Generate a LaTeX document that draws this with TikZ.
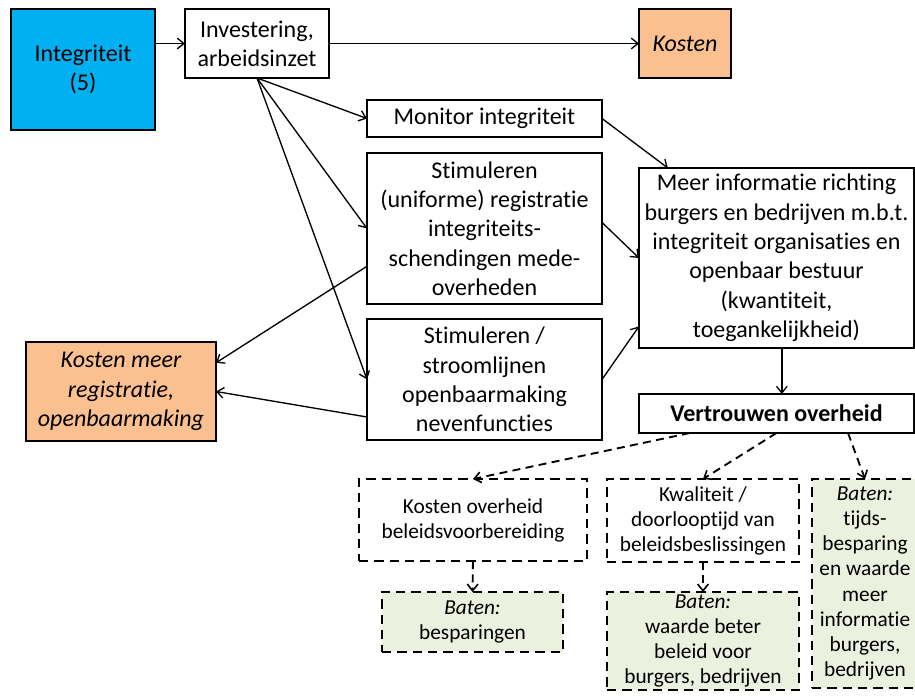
\documentclass[tikz,border=0pt]{standalone}
\usepackage{fontspec}
\setmainfont[Ligatures=NoCommon]{Carlito}
\usetikzlibrary{arrows.meta,calc}
\definecolor{cyanfill}{HTML}{00B0F0}
\definecolor{orangefill}{HTML}{FAC090}
\definecolor{greenfill}{HTML}{EBF1DE}
\tikzset{
  box/.style={draw, line width=1.5pt, inner sep=0pt, outer sep=0pt, align=center,
    font=\fontsize{18}{22}\selectfont},
  dbox/.style={draw, line width=2.2pt, dash pattern=on 7pt off 4.5pt, inner sep=0pt, outer sep=0pt,
    align=center, font=\fontsize{16}{18.8}\selectfont},
  arr/.style={line width=1pt, -{Straight Barb[length=5pt,width=8pt,line width=1pt]}},
  darr/.style={line width=1.4pt, dash pattern=on 6pt off 4pt, -{Straight Barb[length=5pt,width=8pt,line width=1.2pt]}},
}
\newcommand{\bx}[6]{% name, x1,y1,x2,y2, style
  \node[#6, minimum width={(#4-#2)*0.75pt}, minimum height={(#5-#3)*0.75pt}] (#1) at ({(#2+#4)/2},{(#3+#5)/2})}
\begin{document}
\begin{tikzpicture}[x=0.75pt,y=-0.75pt]
\useasboundingbox (0,0) rectangle (915,700);
% top row
\bx{integ}{11}{9}{155}{130}{box, fill=cyanfill} {Integriteit\\(5)};
\bx{invest}{185}{9}{329}{78}{box} {Investering,\\arbeidsinzet};
\bx{kosten}{639}{9}{731}{78}{box, fill=orangefill} {\itshape Kosten};
% middle column
\bx{monitor}{367}{100}{602}{137}{box} {Monitor integriteit};
\bx{stima}{367}{153}{602}{304}{box} {Stimuleren\\(uniforme) registratie\\integriteits-\\schendingen mede-\\overheden};
\bx{stimb}{367}{319}{602}{440}{box} {Stimuleren /\\stroomlijnen\\openbaarmaking\\nevenfuncties};
\bx{kmeer}{26}{342}{216}{441}{box, fill=orangefill} {\itshape Kosten meer\\\itshape registratie,\\\itshape openbaarmaking};
% right column
\bx{meer}{639}{168}{914}{348}{box} {Meer informatie richting\\burgers en bedrijven m.b.t.\\integriteit organisaties en\\openbaar bestuur\\(kwantiteit,\\toegankelijkheid)};
\bx{vert}{639}{394}{914}{433}{box} {\bfseries Vertrouwen overheid};
% bottom dashed boxes
\bx{kover}{359}{479}{587}{561}{dbox} {Kosten overheid\\beleidsvoorbereiding};
\bx{kwal}{607}{479}{799}{562}{dbox} {Kwaliteit /\\doorlooptijd van\\beleidsbeslissingen};
\bx{bata}{382}{592}{563}{652}{dbox, fill=greenfill} {\itshape Baten:\\besparingen};
\bx{batb}{607}{592}{799}{690}{dbox, fill=greenfill} {\itshape Baten:\\waarde beter\\beleid voor\\burgers, bedrijven};
\bx{batc}{812}{479}{918}{688}{dbox, fill=greenfill} {\itshape Baten:\\tijds-\\besparing\\en waarde\\meer\\informatie\\burgers,\\bedrijven};
% solid connectors
\draw[arr] (invest.west -| integ.east) -- (invest.west);
\draw[arr] (invest.east) -- (kosten.west);
\draw[arr] (invest.south) -- (monitor.west);
\draw[arr] (invest.south) -- (stima.west);
\draw[arr] (invest.south) -- (stimb.west);
\draw[arr] ($(stima.north west)!0.75!(stima.south west)$) -- ($(kmeer.north east)!0.21!(kmeer.south east)$);
\draw[arr] ($(stimb.north west)!0.81!(stimb.south west)$) -- (kmeer.east);
\draw[arr] (monitor.east) -- ($(meer.north west)!0.105!(meer.north east)$);
\draw[arr] ($(stima.north east)!0.46!(stima.south east)$) -- (meer.west);
\draw[arr] (stimb.east) -- ($(meer.north west)!0.88!(meer.south west)$);
\draw[arr] ([xshift=4pt]meer.south) -- ([xshift=4pt]vert.north);
% dashed connectors
\draw[darr] ($(vert.south west)!0.185!(vert.south east)$) -- (kover.north);
\draw[darr] ($(vert.south west)!0.5!(vert.south east)$) -- (kwal.north);
\draw[darr] ($(vert.south west)!0.76!(vert.south east)$) -- (batc.north);
\draw[darr] (kover.south) -- (bata.north);
\draw[darr] (kwal.south) -- (batb.north);
\end{tikzpicture}
\end{document}
